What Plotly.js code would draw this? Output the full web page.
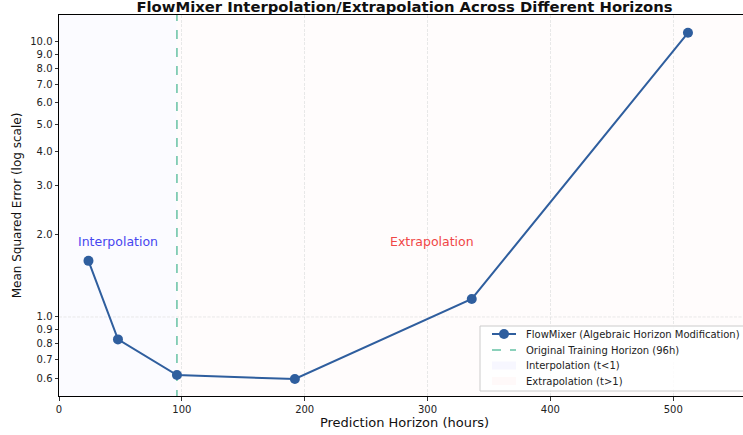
<!DOCTYPE html>
<html>
<head>
<meta charset="utf-8">
<script src="https://cdn.plot.ly/plotly-3.0.1.min.js"></script>
<style>
  html, body { margin: 0; padding: 0; background: #ffffff; overflow: hidden; }
  #chart { width: 750px; height: 435px; }
</style>
</head>
<body>
<div id="chart"></div>
<script>
// Prediction horizons (hours) and the MSE obtained by FlowMixer at each one
const horizons = [24, 48, 96, 192, 336, 512];
const mse = [1.60, 0.829, 0.615, 0.595, 1.163, 10.8];

// Horizon the model was originally trained on
const trainHorizon = 96;

// Axis ticks
const xTicks = [0, 100, 200, 300, 400, 500];
const yTicks = [0.6, 0.7, 0.8, 0.9, 1.0, 2.0, 3.0, 4.0, 5.0, 6.0, 7.0, 8.0, 9.0, 10.0];
const yTickText = ['0.6', '0.7', '0.8', '0.9', '1.0', '2.0', '3.0', '4.0', '5.0', '6.0', '7.0', '8.0', '9.0', '10.0'];
const yMajor = [1.0, 10.0];

// Legend entries
const legendLabels = [
  'FlowMixer (Algebraic Horizon Modification)',
  'Original Training Horizon (96h)',
  'Interpolation (t<1)',
  'Extrapolation (t>1)'
];

const W = 750, H = 435;
const M = { l: 59, r: 0, t: 15, b: 39 };
const xRange = [0, 562.5];
const yRangeLog = [-0.2873, 1.098];

const FONT = 'DejaVu Sans, sans-serif';
const lineColor = '#2f5e9e';
const dashColor = '#66c2a5';
const interpFill = 'rgba(0,0,255,0.016)';
const extrapFill = 'rgba(255,0,0,0.012)';
const gridColor = '#e2e2e2';

// pixel -> paper helpers for the hand-placed legend
const plotW = W - M.l - M.r, plotH = H - M.t - M.b;
const px = v => (v - M.l) / plotW;
const py = v => (H - M.b - v) / plotH;

const traces = [
  {
    x: [trainHorizon, trainHorizon],
    y: [0.01, 100],
    mode: 'lines',
    line: { color: dashColor, width: 1.5, dash: 'dash' },
    name: legendLabels[1],
    hoverinfo: 'skip'
  },
  {
    x: horizons,
    y: mse,
    mode: 'lines+markers',
    line: { color: lineColor, width: 2 },
    marker: { color: lineColor, size: 10 },
    name: legendLabels[0]
  }
];

// Shaded regions either side of the training horizon, then major y gridlines
let shapes = [
  { type: 'rect', layer: 'below', xref: 'x', yref: 'paper',
    x0: xRange[0], x1: trainHorizon, y0: 0, y1: 1,
    fillcolor: interpFill, line: { width: 0 } },
  { type: 'rect', layer: 'below', xref: 'x', yref: 'paper',
    x0: trainHorizon, x1: xRange[1], y0: 0, y1: 1,
    fillcolor: extrapFill, line: { width: 0 } }
].concat(yMajor.map(v => ({
  type: 'line', layer: 'below', xref: 'paper', yref: 'y',
  x0: 0, x1: 1, y0: Math.log10(v), y1: Math.log10(v),
  line: { color: gridColor, width: 0.8, dash: '3px,1.5px' }
})));

// Legend box and symbols
const legLeft = 480, legTop = 326, legRight = 760, legBottom = 391;
const symX0 = 492, symX1 = 516, textX = 524;
const rowY = [334, 350, 365.5, 381];
shapes = shapes.concat([
  { type: 'rect', layer: 'above', xref: 'paper', yref: 'paper',
    x0: px(legLeft), x1: px(legRight), y0: py(legBottom), y1: py(legTop),
    fillcolor: 'rgba(255,255,255,0.85)', line: { color: '#cccccc', width: 1 } },
  { type: 'line', layer: 'above', xref: 'paper', yref: 'paper',
    x0: px(symX0), x1: px(symX1), y0: py(rowY[0]), y1: py(rowY[0]),
    line: { color: lineColor, width: 2 } },
  { type: 'circle', layer: 'above', xref: 'paper', yref: 'paper',
    xsizemode: 'pixel', ysizemode: 'pixel',
    xanchor: px((symX0 + symX1) / 2), yanchor: py(rowY[0]),
    x0: -5, x1: 5, y0: -5, y1: 5,
    fillcolor: lineColor, line: { color: lineColor, width: 0 } },
  { type: 'line', layer: 'above', xref: 'paper', yref: 'paper',
    x0: px(symX0), x1: px(symX1), y0: py(rowY[1]), y1: py(rowY[1]),
    line: { color: dashColor, width: 1.5, dash: 'dash' } },
  { type: 'rect', layer: 'above', xref: 'paper', yref: 'paper',
    x0: px(symX0), x1: px(symX1), y0: py(rowY[2] + 4), y1: py(rowY[2] - 4),
    fillcolor: 'rgba(0,0,255,0.03)', line: { width: 0 } },
  { type: 'rect', layer: 'above', xref: 'paper', yref: 'paper',
    x0: px(symX0), x1: px(symX1), y0: py(rowY[3] + 4), y1: py(rowY[3] - 4),
    fillcolor: 'rgba(255,0,0,0.025)', line: { width: 0 } }
]);

const labelY = Math.log10(1.88);
const annotations = [
  { x: trainHorizon / 2, y: labelY, xref: 'x', yref: 'y', text: 'Interpolation',
    showarrow: false, font: { family: FONT, size: 12.5, color: '#4646f0' } },
  { x: (trainHorizon + horizons[horizons.length - 1]) / 2, y: labelY, xref: 'x', yref: 'y',
    text: 'Extrapolation', showarrow: false, font: { family: FONT, size: 12.5, color: '#f04646' } }
].concat(legendLabels.map((t, i) => ({
  x: px(textX), y: py(rowY[i]), xref: 'paper', yref: 'paper',
  xanchor: 'left', yanchor: 'middle', text: t.replace('<', '&lt;').replace('>', '&gt;'),
  showarrow: false, font: { family: FONT, size: 10, color: '#222222' }
})));

const layout = {
  width: W,
  height: H,
  margin: M,
  paper_bgcolor: '#ffffff',
  plot_bgcolor: '#ffffff',
  font: { family: FONT, size: 10, color: '#222222' },
  showlegend: false,
  title: {
    text: '<b>FlowMixer Interpolation/Extrapolation Across Different Horizons</b>',
    font: { family: FONT, size: 14.8, color: '#111111' },
    xref: 'paper', x: 0.5, xanchor: 'center',
    yref: 'container', y: 0.985, yanchor: 'middle'
  },
  xaxis: {
    range: xRange,
    tickvals: xTicks,
    ticktext: xTicks.map(String),
    ticks: 'outside', ticklen: 3.5, tickwidth: 0.8, tickcolor: '#000000',
    showline: true, linecolor: '#000000', linewidth: 1, mirror: true,
    showgrid: true, gridcolor: gridColor, gridwidth: 0.8, griddash: '3px,1.5px',
    zeroline: false,
    tickfont: { family: FONT, size: 10, color: '#222222' },
    title: { text: 'Prediction Horizon (hours)', font: { family: FONT, size: 13, color: '#111111' }, standoff: 4 }
  },
  yaxis: {
    type: 'log',
    range: yRangeLog,
    tickvals: yTicks,
    ticktext: yTickText,
    ticks: 'outside', ticklen: 3.5, tickwidth: 0.8, tickcolor: '#000000',
    showline: true, linecolor: '#000000', linewidth: 1, mirror: false,
    showgrid: false,
    zeroline: false,
    tickfont: { family: FONT, size: 10, color: '#222222' },
    title: { text: 'Mean Squared Error (log scale)', font: { family: FONT, size: 12, color: '#111111' }, standoff: 6 }
  },
  shapes: shapes,
  annotations: annotations
};

Plotly.newPlot('chart', traces, layout, { staticPlot: true, displayModeBar: false });
</script>
</body>
</html>
